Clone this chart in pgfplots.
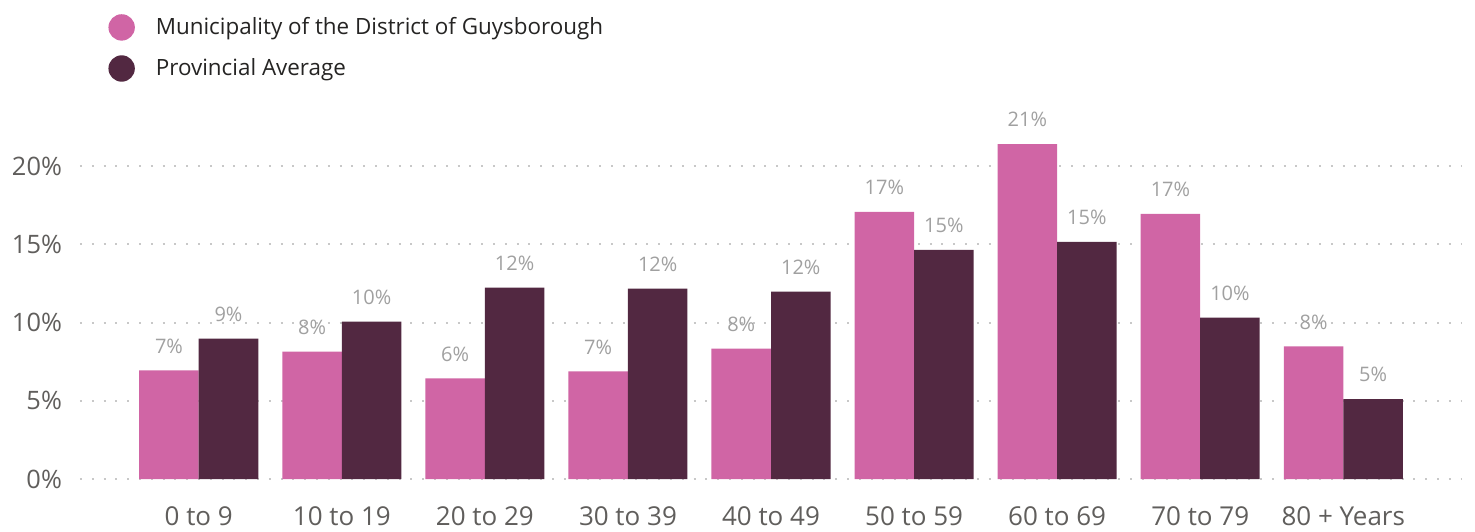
\documentclass[border=0pt]{standalone}
\usepackage{pgfplots}
\pgfplotsset{compat=1.18}
\usepackage{fontspec}
\setmainfont{Open Sans}
\definecolor{mpink}{HTML}{D065A5}
\definecolor{mdark}{HTML}{522841}
\definecolor{ticktxt}{HTML}{605E5C}
\definecolor{legtxt}{HTML}{252423}
\definecolor{lbltxt}{HTML}{A0A0A0}
\definecolor{gridc}{HTML}{C8C8C8}

% Age distribution values (percent)
\pgfplotstableread{
x muni prov
0 6.94 8.98
1 8.15 10.06
2 6.43 12.23
3 6.88 12.17
4 8.34 11.97
5 17.07 14.65
6 21.40 15.16
7 16.94 10.32
8 8.47 5.10
}\agedata

\begin{document}
\begin{tikzpicture}
\path[use as bounding box] (-40pt,-26pt) rectangle (697.5pt,239.5pt);
\begin{axis}[
    at={(0,0)}, anchor=south west,
    scale only axis,
    width=691pt, height=176pt,
    xmin=-0.83, xmax=8.83,
    ymin=0, ymax=22.5,
    axis line style={draw=none},
    clip=false,
    ybar, bar width=0.416,
    xtick=data,
    xticklabels={0 to 9,10 to 19,20 to 29,30 to 39,40 to 49,50 to 59,60 to 69,70 to 79,80 + Years},
    ytick={0,5,10,15,20},
    yticklabel={\pgfmathprintnumber{\tick}\%},
    /pgf/number format/assume math mode=true,
    ymajorgrids,
    major grid style={gridc, line width=1pt, dash pattern=on 1pt off 4.9pt},
    tick style={draw=none},
    xticklabel style={font=\fontsize{13}{15}\selectfont, text=ticktxt, yshift=-6pt},
    yticklabel style={font=\fontsize{12.7}{15}\selectfont, text=ticktxt, xshift=-5.5pt},
    nodes near coords={\pgfmathprintnumber[fixed,precision=0]{\pgfplotspointmeta}\%},
    nodes near coords style={font=\fontsize{10}{12}\selectfont, text=lbltxt, anchor=south, yshift=5pt},
    legend style={at={(0.0203,1.324)}, anchor=north west, draw=none,
        font=\fontsize{11.2}{13}\selectfont, text=legtxt, row sep=6.5pt, inner sep=0pt,
        legend cell align=left, /tikz/every even column/.append style={column sep=0pt}},
    legend image code/.code={\fill[#1] (0.3em,0) circle (6.6pt);},
]
\addplot[fill=mpink, draw=none, bar shift=-0.208] table[x=x, y=muni] {\agedata};
\addlegendentry{\hspace{8.5pt}Municipality of the District of Guysborough}
\addplot[fill=mdark, draw=none, bar shift=0.208] table[x=x, y=prov] {\agedata};
\addlegendentry{\hspace{8.5pt}Provincial Average}
\end{axis}
\end{tikzpicture}
\end{document}
